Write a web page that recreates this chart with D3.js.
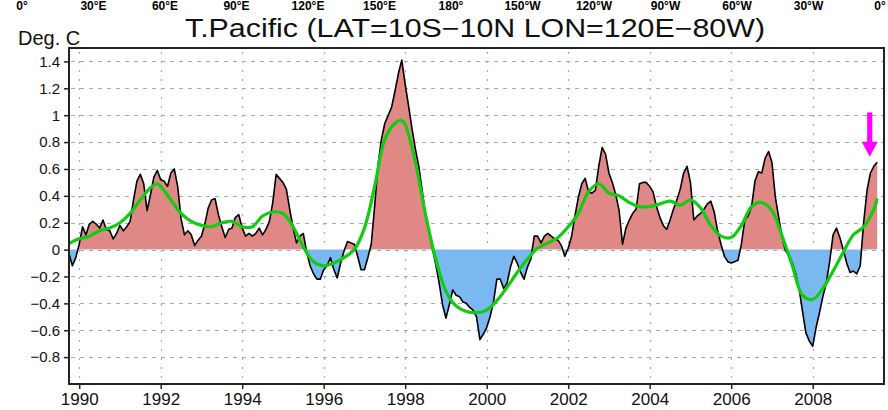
<!DOCTYPE html>
<html>
<head>
<meta charset="utf-8">
<script src="https://cdn.jsdelivr.net/npm/d3@7"></script>
<style>
  body { margin: 0; background: #fff; }
  svg { display: block; }
</style>
</head>
<body>
<svg id="chart" width="888" height="410"></svg>
<script>
// Monthly SST anomaly, tropical Pacific box, starting October 1989 (decimal year).
const START = 1989.75;
const anomaly = [
  -0.03, -0.12, -0.06, 0.04, 0.17, 0.11, 0.19, 0.21, 0.19, 0.16, 0.22, 0.15,
  0.14, 0.08, 0.12, 0.18, 0.14, 0.17, 0.21, 0.37, 0.51, 0.56, 0.49, 0.29,
  0.41, 0.54, 0.59, 0.52, 0.51, 0.47, 0.57, 0.60, 0.47, 0.23, 0.11, 0.14,
  0.11, 0.03, 0.07, 0.10, 0.19, 0.31, 0.37, 0.38, 0.26, 0.17, 0.09, 0.15,
  0.16, 0.24, 0.26, 0.16, 0.10, 0.12, 0.10, 0.12, 0.16, 0.11, 0.15, 0.21,
  0.35, 0.56, 0.53, 0.50, 0.45, 0.30, 0.16, 0.05, 0.10, 0.12, -0.02, -0.12,
  -0.18, -0.22, -0.22, -0.15, -0.12, -0.06, -0.15, -0.21, -0.10, -0.01, 0.06, 0.05,
  0.04, -0.05, -0.15, -0.15, -0.06, 0.04, 0.32, 0.63, 0.82, 0.94, 1.00, 1.06,
  1.18, 1.31, 1.41, 1.23, 1.07, 0.90, 0.75, 0.62, 0.44, 0.25, 0.14, 0.01,
  -0.11, -0.25, -0.41, -0.51, -0.41, -0.30, -0.34, -0.35, -0.39, -0.40, -0.43, -0.45,
  -0.50, -0.67, -0.63, -0.58, -0.50, -0.39, -0.22, -0.22, -0.29, -0.25, -0.13, -0.05,
  -0.10, -0.17, -0.22, -0.13, -0.07, 0.10, 0.10, 0.05, 0.10, 0.12, 0.10, 0.08,
  0.07, 0.03, -0.05, 0.01, 0.10, 0.25, 0.39, 0.49, 0.53, 0.43, 0.42, 0.44,
  0.62, 0.76, 0.71, 0.57, 0.50, 0.41, 0.29, 0.04, 0.16, 0.22, 0.27, 0.30,
  0.49, 0.50, 0.50, 0.47, 0.43, 0.32, 0.24, 0.18, 0.15, 0.22, 0.30, 0.37,
  0.45, 0.57, 0.62, 0.50, 0.22, 0.25, 0.27, 0.30, 0.34, 0.36, 0.28, 0.14,
  0.04, -0.05, -0.09, -0.10, -0.09, -0.08, 0.04, 0.22, 0.25, 0.32, 0.51, 0.58,
  0.57, 0.68, 0.73, 0.65, 0.39, 0.24, 0.09, -0.01, -0.04, -0.10, -0.18, -0.29,
  -0.46, -0.62, -0.68, -0.72, -0.58, -0.47, -0.35, -0.25, -0.09, 0.11, 0.16, 0.09,
  0.00, -0.10, -0.17, -0.16, -0.18, -0.12, 0.20, 0.44, 0.57, 0.62, 0.65
];

// Low-pass filtered series (month index from START, value).
const smoothMonth = [
  0, 3, 6, 9, 12, 15, 18, 21, 24, 26, 27, 30, 33, 36, 39, 42, 45, 48, 51, 54,
  57, 60, 63, 66, 69, 72, 75, 78, 81, 84, 87, 90, 93, 96, 98, 99, 102, 105, 108, 111,
  114, 117, 120, 123, 126, 129, 132, 135, 138, 141, 144, 147, 150, 153, 156, 159, 162, 165, 168, 171,
  174, 177, 180, 183, 186, 189, 192, 195, 198, 201, 204, 207, 210, 213, 216, 219, 222, 225, 228, 231,
  234, 237, 238
];
const smoothValue = [
  0.045, 0.08, 0.10, 0.14, 0.16, 0.20, 0.27, 0.37, 0.46, 0.49, 0.47, 0.37, 0.27, 0.21, 0.18, 0.17, 0.20, 0.21, 0.17, 0.17,
  0.25, 0.28, 0.27, 0.17, 0.02, -0.09, -0.12, -0.10, -0.06, 0.00, 0.16, 0.47, 0.82, 0.94, 0.96, 0.93, 0.65, 0.26, -0.07, -0.31,
  -0.42, -0.46, -0.47, -0.45, -0.38, -0.28, -0.17, -0.07, 0.01, 0.05, 0.09, 0.17, 0.27, 0.43, 0.49, 0.42, 0.40, 0.35, 0.32, 0.32,
  0.34, 0.36, 0.33, 0.37, 0.31, 0.18, 0.10, 0.09, 0.18, 0.32, 0.35, 0.29, 0.10, -0.12, -0.34, -0.37, -0.29, -0.16, -0.02, 0.11,
  0.17, 0.30, 0.38
];

const yearTicks = [1990, 1992, 1994, 1996, 1998, 2000, 2002, 2004, 2006, 2008];
const valueTicks = [-0.8, -0.6, -0.4, -0.2, 0, 0.2, 0.4, 0.6, 0.8, 1, 1.2, 1.4];
const lonLabels = ["0°", "30°E", "60°E", "90°E", "120°E", "150°E", "180°",
                   "150°W", "120°W", "90°W", "60°W", "30°W", "0°"];
const titleText = "T.Pacific (LAT=10S\u221210N LON=120E\u221280W)";
const unitText = "Deg. C";
// Marker pointing at the latest warming (decimal year, from value, to value).
const marker = { time: 2009.4, from: 1.02, to: 0.69 };

const END = START + (anomaly.length + 1) / 12;
const plot = { left: 69, right: 884, top: 48, bottom: 384 };

const svg = d3.select("#chart");
const x = d3.scaleLinear().domain([START, END]).range([plot.left, plot.right]);
const y = d3.scaleLinear().domain([-1, 1.5]).range([plot.bottom, plot.top]);

const series = anomaly.map((v, i) => ({ t: START + i / 12, v }));
const smooth = smoothMonth.map((m, i) => ({ t: START + m / 12, v: smoothValue[i] }));

// Clip regions above and below zero
const defs = svg.append("defs");
defs.append("clipPath").attr("id", "above").append("rect")
  .attr("x", plot.left).attr("y", plot.top)
  .attr("width", plot.right - plot.left).attr("height", y(0) - plot.top);
defs.append("clipPath").attr("id", "below").append("rect")
  .attr("x", plot.left).attr("y", y(0))
  .attr("width", plot.right - plot.left).attr("height", plot.bottom - y(0));

// Grid
const grid = svg.append("g");
grid.selectAll("line.h").data(valueTicks).join("line")
  .attr("x1", plot.left + 2).attr("x2", plot.right)
  .attr("y1", d => Math.round(y(d)) + 0.5).attr("y2", d => Math.round(y(d)) + 0.5)
  .attr("stroke", "#a8a8a8").attr("stroke-width", 1.2)
  .attr("stroke-dasharray", "4,5");
grid.selectAll("line.v").data(yearTicks).join("line")
  .attr("x1", d => Math.round(x(d)) + 0.5).attr("x2", d => Math.round(x(d)) + 0.5)
  .attr("y1", plot.top + 4).attr("y2", plot.bottom)
  .attr("stroke", "#a8a8a8").attr("stroke-width", 1.2)
  .attr("stroke-dasharray", "2,7");

// Filled anomaly areas
const area = d3.area().x(d => x(d.t)).y0(y(0)).y1(d => y(d.v));
svg.append("path").datum(series).attr("d", area)
  .attr("fill", "#e08886").attr("clip-path", "url(#above)");
svg.append("path").datum(series).attr("d", area)
  .attr("fill", "#7ab8f2").attr("clip-path", "url(#below)");

// Monthly line
svg.append("path").datum(series)
  .attr("d", d3.line().x(d => x(d.t)).y(d => y(d.v)))
  .attr("fill", "none").attr("stroke", "#000").attr("stroke-width", 1.6)
  .attr("stroke-linejoin", "round");

// Smoothed line
svg.append("path").datum(smooth)
  .attr("d", d3.line().x(d => x(d.t)).y(d => y(d.v)).curve(d3.curveCatmullRom.alpha(0.5)))
  .attr("fill", "none").attr("stroke", "#12cc12").attr("stroke-width", 3.2)
  .attr("stroke-linejoin", "round");

// Frame
svg.append("rect")
  .attr("x", plot.left).attr("y", plot.top)
  .attr("width", plot.right - plot.left).attr("height", plot.bottom - plot.top)
  .attr("fill", "none").attr("stroke", "#222").attr("stroke-width", 2);

// Axes
const yAxis = d3.axisLeft(y).tickValues(valueTicks).tickSize(5).tickPadding(4)
  .tickFormat(d3.format("~g"));
const gy = svg.append("g").attr("transform", `translate(${plot.left},0)`).call(yAxis);
gy.select(".domain").remove();
gy.selectAll(".tick line").attr("stroke", "#222").attr("stroke-width", 1.5);
gy.selectAll(".tick text").attr("font-family", "Liberation Sans, Arial, sans-serif")
  .attr("font-size", 15).attr("fill", "#111");

const xAxis = d3.axisBottom(x).tickValues(yearTicks).tickSize(5).tickPadding(4)
  .tickFormat(d3.format("d"));
const gx = svg.append("g").attr("transform", `translate(0,${plot.bottom})`).call(xAxis);
gx.select(".domain").remove();
gx.selectAll(".tick line").attr("stroke", "#222").attr("stroke-width", 1.5);
gx.selectAll(".tick text").attr("font-family", "Liberation Sans, Arial, sans-serif")
  .attr("font-size", 17).attr("fill", "#111");

// Longitude strip along the top edge
const lonX = d3.scaleLinear().domain([0, lonLabels.length - 1]).range([22, 880]);
svg.append("g").selectAll("text").data(lonLabels).join("text")
  .attr("x", (d, i) => lonX(i)).attr("y", 10)
  .attr("text-anchor", "middle")
  .attr("font-family", "Liberation Sans, Arial, sans-serif")
  .attr("font-weight", "bold").attr("font-size", 12).attr("fill", "#000")
  .text(d => d);

// Title and units
svg.append("text").attr("x", 185).attr("y", 37)
  .attr("font-family", "Liberation Sans Narrow, Liberation Sans, Arial, sans-serif")
  .attr("font-size", 25).attr("fill", "#111")
  .attr("textLength", 580).attr("lengthAdjust", "spacingAndGlyphs")
  .text(titleText);
svg.append("text").attr("x", 18).attr("y", 45)
  .attr("font-family", "Liberation Sans, Arial, sans-serif")
  .attr("font-size", 20).attr("fill", "#111")
  .text(unitText);

// Arrow marker
const ax = x(marker.time), ay0 = y(marker.from), ay1 = y(marker.to);
const headH = 15, headW = 8, shaft = 2.6;
svg.append("path")
  .attr("d", `M${ax - shaft},${ay0} L${ax + shaft},${ay0} L${ax + shaft},${ay1 - headH}
              L${ax + headW},${ay1 - headH} L${ax},${ay1} L${ax - headW},${ay1 - headH}
              L${ax - shaft},${ay1 - headH} Z`)
  .attr("fill", "#ff00ff");
</script>
</body>
</html>
